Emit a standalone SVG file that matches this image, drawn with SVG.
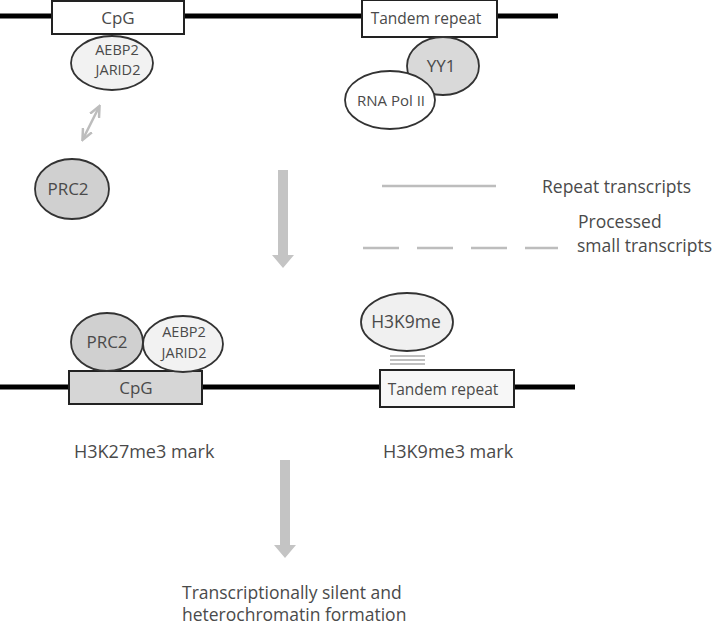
<svg xmlns="http://www.w3.org/2000/svg" width="720" height="628" viewBox="0 0 720 628">
<style>
text{font-family:"Open Sans","Liberation Sans",sans-serif;fill:#4a4a4a;}
.dna{stroke:#000;stroke-width:5;}
.box{stroke:#222;stroke-width:2;}
.ell{stroke:#333;stroke-width:1.8;}
.gray{stroke:#bdbdbd;stroke-width:2.5;fill:none;}
.big{fill:#c4c4c4;}
</style>
<defs>
<marker id="ah" viewBox="0 0 10 10" refX="8" refY="5" markerWidth="5" markerHeight="5" orient="auto-start-reverse">
<path d="M0,1 L9,5 L0,9" fill="none" stroke="#bdbdbd" stroke-width="2"/>
</marker>
</defs>
<g id="connectors">
<line class="dna" x1="0" y1="16" x2="558" y2="16"/>
<line class="dna" x1="0" y1="387" x2="575" y2="387"/>
<line class="gray" x1="83" y1="139" x2="99" y2="107" marker-start="url(#ah)" marker-end="url(#ah)"/>
<path class="big" d="M278,170 H288 V255 H294 L283,268 L272,255 H278 Z"/>
<path class="big" d="M280,460 H290 V545 H296 L285,558 L274,545 H280 Z"/>
<line class="gray" x1="382" y1="186" x2="496" y2="186"/>
<line class="gray" x1="363" y1="248" x2="558" y2="248" stroke-dasharray="36,18"/>
<line stroke="#aaa" stroke-width="1.5" x1="390" y1="356" x2="425" y2="356"/>
<line stroke="#aaa" stroke-width="1.5" x1="390" y1="360" x2="425" y2="360"/>
<line stroke="#aaa" stroke-width="1.5" x1="390" y1="364" x2="425" y2="364"/>
</g>
<g id="cpg-top"><rect class="box" x="52" y="1" width="132" height="33" fill="#fff"/><text x="118" y="24" font-size="17" text-anchor="middle">CpG</text></g>
<g id="tandem-top"><rect class="box" x="362" y="0" width="135" height="37" fill="#fff"/><text x="426" y="24" font-size="15.5" text-anchor="middle">Tandem repeat</text></g>
<g id="aebp2-top"><ellipse class="ell" cx="112" cy="63" rx="41" ry="27" fill="#f2f2f2"/><text x="117" y="55" font-size="14.5" text-anchor="middle">AEBP2</text><text x="118" y="75" font-size="14.5" text-anchor="middle">JARID2</text></g>
<g id="prc2-top"><ellipse class="ell" cx="72" cy="189" rx="37" ry="30" fill="#d0d0d0"/><text x="68" y="195" font-size="17" text-anchor="middle">PRC2</text></g>
<g id="yy1"><ellipse class="ell" cx="443" cy="66" rx="36" ry="29" fill="#d9d9d9"/><text x="441" y="72" font-size="17" text-anchor="middle" fill="#888">YY1</text></g>
<g id="rnapol"><ellipse class="ell" cx="390" cy="100" rx="45" ry="29" fill="#fff"/><text x="391" y="106" font-size="15" text-anchor="middle">RNA Pol II</text></g>
<g id="legend-repeat"><text x="542" y="193" font-size="17.5">Repeat transcripts</text></g>
<g id="legend-processed"><text x="578" y="228" font-size="17.5">Processed</text><text x="577" y="252" font-size="17.5">small transcripts</text></g>
<g id="cpg-bottom"><rect class="box" x="69" y="371" width="133" height="33" fill="#d6d6d6"/><text x="136" y="394" font-size="17" text-anchor="middle">CpG</text></g>
<g id="prc2-bottom"><ellipse class="ell" cx="107" cy="342" rx="36" ry="29" fill="#d0d0d0"/><text x="107" y="348" font-size="17" text-anchor="middle">PRC2</text></g>
<g id="aebp2-bottom"><ellipse class="ell" cx="183" cy="344" rx="40" ry="28" fill="#f2f2f2"/><text x="184" y="337" font-size="14.5" text-anchor="middle">AEBP2</text><text x="184" y="358" font-size="14.5" text-anchor="middle">JARID2</text></g>
<g id="tandem-bottom"><rect class="box" x="380" y="370" width="134" height="37" fill="#f7f7f7"/><text x="443" y="395" font-size="15.5" text-anchor="middle">Tandem repeat</text></g>
<g id="h3k9me"><ellipse class="ell" cx="407" cy="322" rx="46" ry="29" fill="#f0f0f0"/><text x="406" y="328" font-size="17.5" text-anchor="middle">H3K9me</text></g>
<g id="h3k27-label"><text x="74" y="458" font-size="18">H3K27me3 mark</text></g>
<g id="h3k9-label"><text x="383" y="458" font-size="18">H3K9me3 mark</text></g>
<g id="outcome"><text x="182" y="599" font-size="17.5">Transcriptionally silent and</text><text x="182" y="621" font-size="17.5">heterochromatin formation</text></g>
</svg>
